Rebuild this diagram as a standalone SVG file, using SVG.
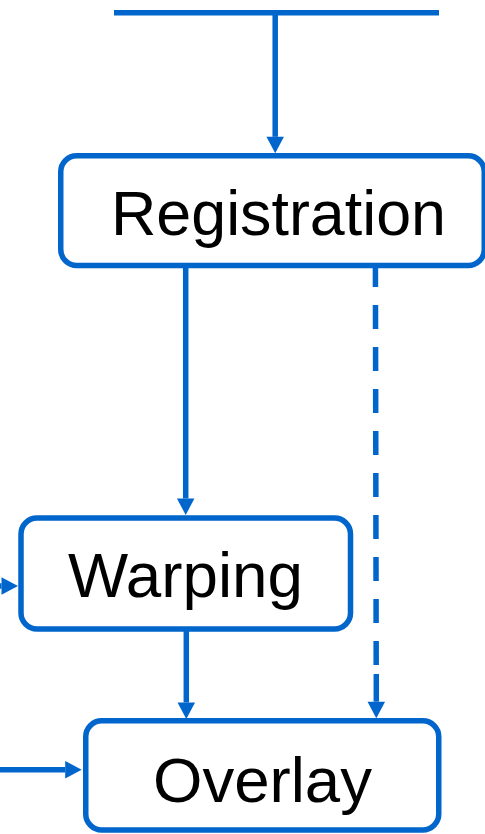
<svg xmlns="http://www.w3.org/2000/svg" width="485" height="834" viewBox="0 0 485 834">
<style>
.box{fill:#ffffff;stroke:#0066cc;stroke-width:5.5}
.lbl{font-family:"Liberation Sans",Arial,sans-serif;font-size:63px;fill:#000000;text-anchor:middle}
.ln{stroke:#0066cc;stroke-width:5.5;fill:none}
.dash{stroke-dasharray:24 18}
</style>
<defs>
<marker id="ah" markerUnits="userSpaceOnUse" markerWidth="18" markerHeight="18" refX="0" refY="8.75" orient="auto" overflow="visible">
<path d="M0,0 L16.5,8.75 L0,17.5 Z" fill="#0066cc"/>
</marker>
</defs>
<rect width="485" height="834" fill="#ffffff"/>
<g id="connectors">
<line class="ln" x1="114" y1="12.8" x2="439" y2="12.8"/>
<line class="ln" x1="275.2" y1="15" x2="275.2" y2="136.8" marker-end="url(#ah)"/>
<line class="ln" x1="185.7" y1="266" x2="185.7" y2="498.5" marker-end="url(#ah)"/>
<line class="ln" x1="186.3" y1="630" x2="186.3" y2="702.5" marker-end="url(#ah)"/>
<line class="ln dash" x1="375.4" y1="263" x2="376.2" y2="665"/>
<line class="ln" x1="376.3" y1="674" x2="376.3" y2="701.7" marker-end="url(#ah)"/>
<line class="ln" x1="-5" y1="586" x2="1.5" y2="586" marker-end="url(#ah)"/>
<line class="ln" x1="-5" y1="769.7" x2="65.2" y2="769.7" marker-end="url(#ah)"/>
</g>
<g id="registration">
<rect class="box" x="60.75" y="155.75" width="423.5" height="109.75" rx="16"/>
<text class="lbl" x="278.5" y="235" textLength="335" lengthAdjust="spacingAndGlyphs">Registration</text>
</g>
<g id="warping">
<rect class="box" x="21" y="518" width="329.5" height="111" rx="16"/>
<text class="lbl" x="185.5" y="597" textLength="235" lengthAdjust="spacingAndGlyphs">Warping</text>
</g>
<g id="overlay">
<rect class="box" x="85.75" y="720.75" width="353" height="109.25" rx="16"/>
<text class="lbl" x="262.5" y="802" textLength="219" lengthAdjust="spacingAndGlyphs">Overlay</text>
</g>
</svg>
